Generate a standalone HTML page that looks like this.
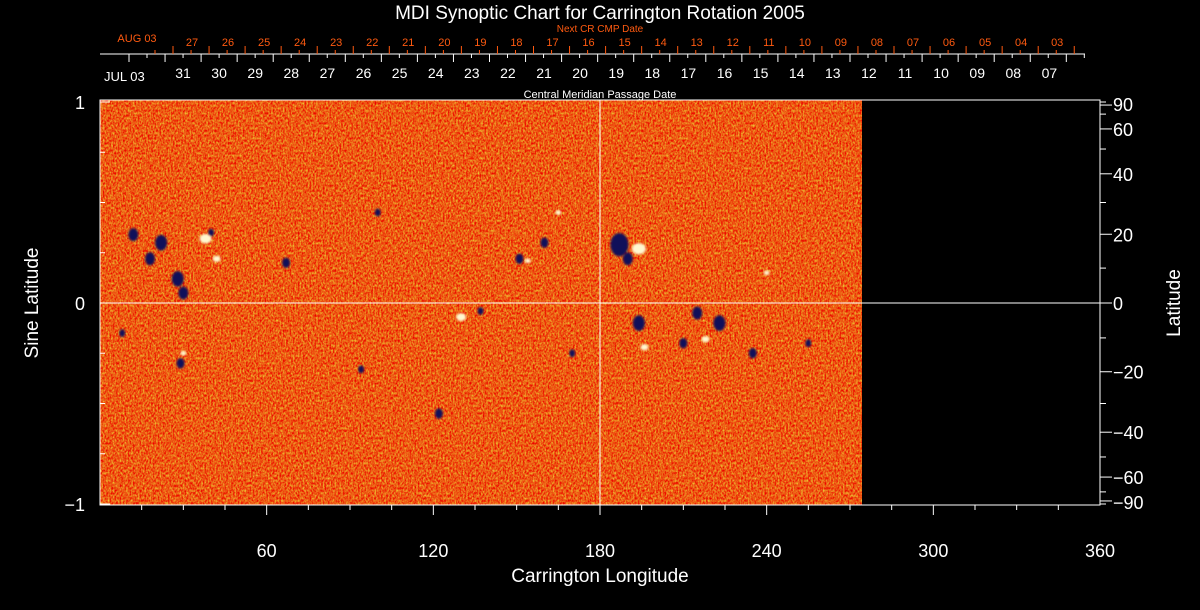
<!DOCTYPE html>
<html><head><meta charset="utf-8"><style>
html,body{margin:0;padding:0;background:#000;}
svg{display:block;font-family:"Liberation Sans",sans-serif;}
</style></head><body>
<svg id="chart" width="1200" height="610" viewBox="0 0 1200 610">
<defs>
<filter id="noise" x="0" y="0" width="100%" height="100%" color-interpolation-filters="sRGB">
<feTurbulence type="fractalNoise" baseFrequency="0.6 0.4" numOctaves="2" seed="4"/>
<feColorMatrix type="matrix" values="0 0 0 0 0.93  1.2 0 0 0 -0.25  0.35 0 0 0 -0.1  0 0 0 0 1"/>
</filter>
<filter id="blur" color-interpolation-filters="sRGB"><feGaussianBlur stdDeviation="1"/></filter>
<clipPath id="mapclip"><rect x="100" y="100" width="762" height="405"/></clipPath>
</defs>
<rect width="1200" height="610" fill="#000"/>
<text x="600" y="19" fill="#fff" font-size="19" text-anchor="middle">MDI Synoptic Chart for Carrington Rotation 2005</text>
<text x="600" y="32" fill="#ff5a10" font-size="10" text-anchor="middle">Next CR CMP Date</text>
<line x1="100" y1="54" x2="1085" y2="54" stroke="#fff" stroke-width="1"/>
<text x="600" y="98" fill="#fff" font-size="11" text-anchor="middle">Central Meridian Passage Date</text>
<g id="dates"></g>
<g id="map" clip-path="url(#mapclip)">
<rect x="100" y="100" width="762" height="405" fill="#e8501a"/>
<rect x="100" y="100" width="762" height="405" filter="url(#noise)"/>
<g id="blobs"></g>
</g>
<rect x="100" y="100" width="1000" height="405" fill="none" stroke="#fff" stroke-width="1"/>
<line x1="600" y1="100" x2="600" y2="505" stroke="#fff"/>
<line x1="100" y1="303" x2="1100" y2="303" stroke="#fff"/>
<g id="axes"></g>
<text x="600" y="582" fill="#fff" font-size="19" text-anchor="middle">Carrington Longitude</text>
<text transform="translate(38,303) rotate(-90)" fill="#fff" font-size="19" text-anchor="middle">Sine Latitude</text>
<text transform="translate(1180,303) rotate(-90)" fill="#fff" font-size="19" text-anchor="middle">Latitude</text>
</svg>
<script>
const xTicks=[60,120,180,240,300,360];
const yTicks=[1,0,-1];
const latTicks=[90,60,40,20,0,-20,-40,-60,-90];
const cmpLabels=["31","30","29","28","27","26","25","24","23","22","21","20","19","18","17","16","15","14","13","12","11","10","09","08","07"];
const nextLabels=["27","26","25","24","23","22","21","20","19","18","17","16","15","14","13","12","11","10","09","08","07","06","05","04","03"];
// active regions: longitude, sine latitude, size
const negLon=[12,22,28,18,30,187,190,151,67,137,194,223,29,122,94,170,210,235,255,40,100,8,160,215];
const negLat=[0.34,0.3,0.12,0.22,0.05,0.29,0.22,0.22,0.2,-0.04,-0.1,-0.1,-0.3,-0.55,-0.33,-0.25,-0.2,-0.25,-0.2,0.35,0.45,-0.15,0.3,-0.05];
const negSize=[5,6,6,5,5,9,5,4,4,3,6,6,4,4,3,3,4,4,3,3,3,3,4,5];
const posLon=[38,42,194,154,130,196,218,240,165,30];
const posLat=[0.32,0.22,0.27,0.21,-0.07,-0.22,-0.18,0.15,0.45,-0.25];
const posSize=[6,4,7,3,5,4,4,3,3,3];
const NS='http://www.w3.org/2000/svg';
const xs=l=>100+l*1000/360;
const ys=s=>303-s*201;
function mk(t,a,p){const e=document.createElementNS(NS,t);for(const k in a)e.setAttribute(k,a[k]);p.appendChild(e);return e;}
const ax=document.getElementById('axes');
for(let l=15;l<360;l+=15){const L=l%60===0?10:5;
const t=mk('line',{x1:xs(l),y1:505,x2:xs(l),y2:505+L,stroke:'#fff'},ax);

}
xTicks.forEach(v=>{const t=mk('text',{x:xs(v),y:557,fill:'#fff','font-size':18,'text-anchor':'middle'},ax);t.textContent=v;

});
for(let s=-1;s<=1.001;s+=0.25){const L=Math.abs(s%1)<0.01||Math.abs(Math.abs(s)-1)<0.01?10:5;
const t=mk('line',{x1:100,y1:ys(s),x2:100+L,y2:ys(s),stroke:'#fff'},ax);

}
yTicks.forEach(v=>{const t=mk('text',{x:85,y:ys(v)+7,fill:'#fff','font-size':18,'text-anchor':'end'},ax);t.textContent=v===-1?'\u22121':v;

});
for(let d=-90;d<=90;d+=10){const y=ys(Math.sin(d*Math.PI/180));const L=d%20===0?12:6;
const t=mk('line',{x1:1100,y1:y,x2:1100+L,y2:y,stroke:'#fff'},ax);

}
latTicks.forEach(d=>{let y=ys(Math.sin(d*Math.PI/180));if(d===90)y+=2;if(d===-90)y-=2;
const t=mk('text',{x:1113,y:y+7,fill:'#fff','font-size':18},ax);t.textContent=d<0?'\u2212'+(-d):d;

});
const dg=document.getElementById('dates');
for(let i=0;i<28;i++){const x=129+i*36.05;if(x>1085)break;
const t=mk('line',{x1:x,y1:54,x2:x,y2:62,stroke:'#fff'},dg);

}
for(let i=0;i<28;i++){const x=147+i*36.05;if(x>1085)break;
const t=mk('line',{x1:x,y1:54,x2:x,y2:58,stroke:'#fff'},dg);

}
for(let i=0;i<28;i++){const x=173+i*36.05;if(x>1080)break;
const t=mk('line',{x1:x,y1:46,x2:x,y2:54,stroke:'#ff5a10'},dg);


const u=mk('line',{x1:x-18,y1:50,x2:x-18,y2:54,stroke:'#ff5a10'},dg);

}
let t0=mk('text',{x:104,y:81,fill:'#fff','font-size':13},dg);t0.textContent='JUL 03';


cmpLabels.forEach((s,i)=>{const t=mk('text',{x:183+i*36.1,y:78,fill:'#fff','font-size':14,'text-anchor':'middle'},dg);t.textContent=s;

});
let t1=mk('text',{x:137,y:42,fill:'#ff5a10','font-size':11,'text-anchor':'middle'},dg);t1.textContent='AUG 03';


nextLabels.forEach((s,i)=>{const t=mk('text',{x:192+i*36.05,y:46,fill:'#ff5a10','font-size':11,'text-anchor':'middle'},dg);t.textContent=s;

});
const bg=document.getElementById('blobs');
negLon.forEach((l,i)=>{const e=mk('ellipse',{cx:xs(l),cy:ys(negLat[i]),rx:negSize[i],ry:negSize[i]*1.3,fill:'#10105a',filter:'url(#blur)'},bg);

});
posLon.forEach((l,i)=>{const e=mk('ellipse',{cx:xs(l),cy:ys(posLat[i]),rx:posSize[i],ry:posSize[i]*0.8,fill:'#fff8d0',filter:'url(#blur)'},bg);

});
</script>
</body></html>
